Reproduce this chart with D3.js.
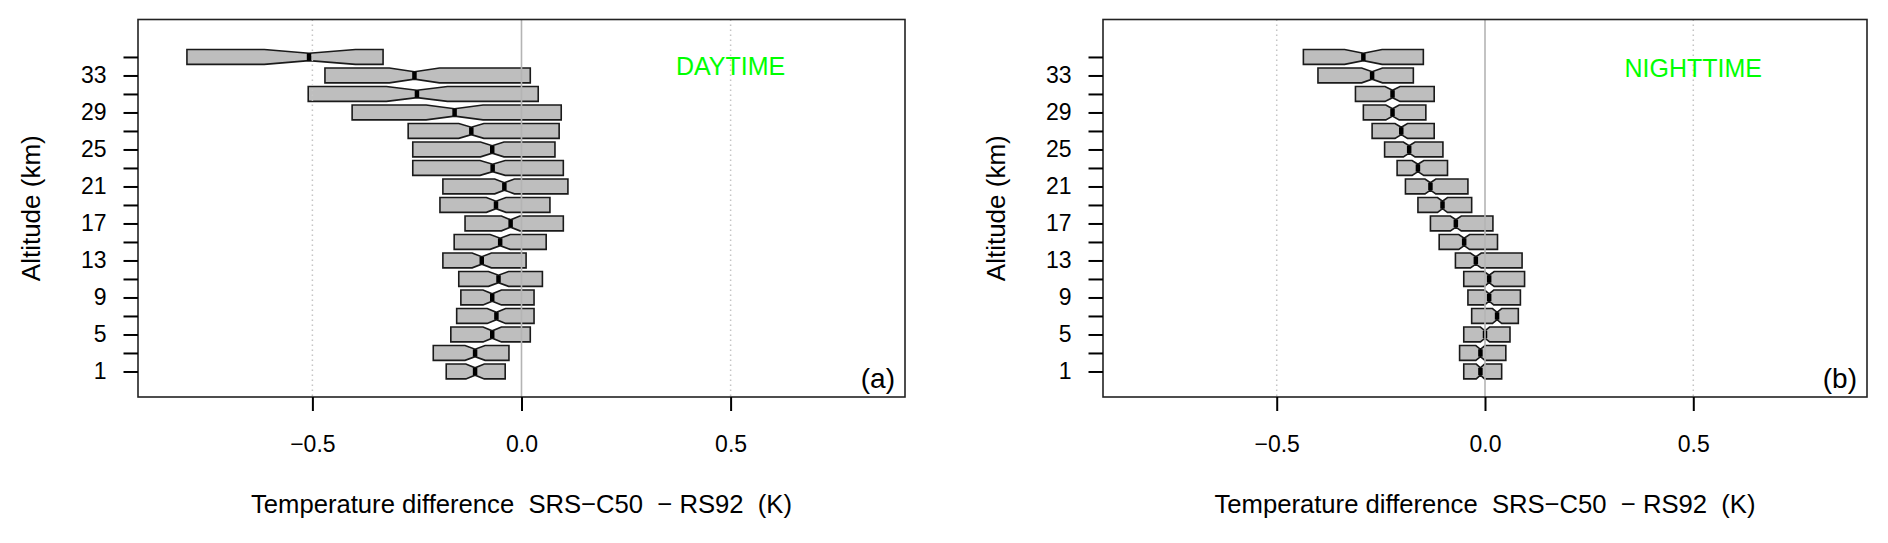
<!DOCTYPE html>
<html>
<head>
<meta charset="utf-8">
<script src="https://cdn.jsdelivr.net/npm/d3@7"></script>
<style>
  html, body { margin: 0; padding: 0; background: #fff; }
  svg { display: block; }
  text { font-family: "Liberation Sans", Arial, Helvetica, sans-serif; }
</style>
</head>
<body>
<svg id="chart" width="1888" height="543"></svg>
<script>
// ---------- data ----------
const altitudes = [1, 3, 5, 7, 9, 11, 13, 15, 17, 19, 21, 23, 25, 27, 29, 31, 33, 35];
const yTickLabels = [1, 5, 9, 13, 17, 21, 25, 29, 33];
const xTickValues = [-0.5, 0.0, 0.5];

// DAYTIME (panel a)
const dayQ1     = [-0.180, -0.211, -0.169, -0.155, -0.145, -0.150, -0.188, -0.161, -0.135, -0.195, -0.188, -0.260, -0.260, -0.271, -0.405, -0.510, -0.470, -0.800];
const dayMedian = [-0.111, -0.111, -0.070, -0.060, -0.070, -0.055, -0.095, -0.051, -0.026, -0.061, -0.041, -0.069, -0.070, -0.120, -0.160, -0.250, -0.256, -0.508];
const dayQ3     = [-0.039, -0.030,  0.021,  0.030,  0.030,  0.050,  0.011,  0.059,  0.100,  0.068,  0.111,  0.100,  0.080,  0.090,  0.095,  0.040,  0.021, -0.331];
const dayNotchLo= [-0.133, -0.135, -0.092, -0.082, -0.092, -0.079, -0.118, -0.075, -0.048, -0.084, -0.064, -0.099, -0.098, -0.150, -0.228, -0.323, -0.316, -0.615];
const dayNotchHi= [-0.089, -0.087, -0.048, -0.038, -0.048, -0.031, -0.072, -0.027, -0.004, -0.037, -0.017, -0.039, -0.042, -0.090, -0.092, -0.177, -0.196, -0.397];

// NIGHTTIME (panel b)
const nightQ1     = [-0.051, -0.061, -0.051, -0.032, -0.041, -0.051, -0.071, -0.110, -0.131, -0.161, -0.191, -0.211, -0.241, -0.271, -0.292, -0.311, -0.401, -0.436];
const nightMedian = [-0.011, -0.011,  0.000,  0.029,  0.010,  0.010, -0.022, -0.050, -0.070, -0.102, -0.131, -0.161, -0.182, -0.201, -0.222, -0.222, -0.271, -0.292];
const nightQ3     = [ 0.040,  0.050,  0.060,  0.080,  0.085,  0.095,  0.089,  0.030,  0.019, -0.032, -0.041, -0.090, -0.101, -0.122, -0.142, -0.122, -0.172, -0.148];
const nightNotchLo= [-0.021, -0.022, -0.011,  0.018, -0.001, -0.002, -0.035, -0.063, -0.083, -0.114, -0.144, -0.175, -0.196, -0.216, -0.238, -0.240, -0.296, -0.337];
const nightNotchHi= [-0.001,  0.000,  0.011,  0.040,  0.021,  0.022, -0.009, -0.037, -0.057, -0.090, -0.118, -0.147, -0.168, -0.186, -0.206, -0.204, -0.246, -0.247];

const panelLabels = ["(a)", "(b)"];
const panelTitles = ["DAYTIME", "NIGHTTIME"];
const xTitle = "Temperature difference  SRS\u2212C50  \u2212 RS92  (K)";
const yTitle = "Altitude (km)";

// ---------- layout ----------
const svg = d3.select("#chart");
const panels = [
  { x0: 138, x1: 905, q1: dayQ1, med: dayMedian, q3: dayQ3, lo: dayNotchLo, hi: dayNotchHi },
  { x0: 1103, x1: 1867, q1: nightQ1, med: nightMedian, q3: nightQ3, lo: nightNotchLo, hi: nightNotchHi }
];
const plotTop = 19.5, plotBottom = 397;
const xDomain = [-0.917, 0.917];
const yDomain = [-1.76, 39.05];
const boxHalf = 0.8; // km

panels.forEach((p, pi) => {
  const x = d3.scaleLinear().domain(xDomain).range([p.x0, p.x1]);
  const y = d3.scaleLinear().domain(yDomain).range([plotBottom, plotTop]);
  const g = svg.append("g");

  // boxes
  const hpx = Math.abs(y(boxHalf) - y(0));
  altitudes.forEach((a, i) => {
    const c = y(a);
    const pts = [
      [x(p.q1[i]), c - hpx], [x(p.lo[i]), c - hpx], [x(p.med[i]), c - hpx / 2],
      [x(p.hi[i]), c - hpx], [x(p.q3[i]), c - hpx], [x(p.q3[i]), c + hpx],
      [x(p.hi[i]), c + hpx], [x(p.med[i]), c + hpx / 2], [x(p.lo[i]), c + hpx],
      [x(p.q1[i]), c + hpx]
    ];
    g.append("path")
      .attr("d", "M" + pts.map(q => q.join(",")).join("L") + "Z")
      .attr("fill", "#bebebe")
      .attr("stroke", "#1a1a1a")
      .attr("stroke-width", 1.6)
      .attr("stroke-linejoin", "miter");
    g.append("line")
      .attr("x1", x(p.med[i])).attr("x2", x(p.med[i]))
      .attr("y1", c - hpx / 2).attr("y2", c + hpx / 2)
      .attr("stroke", "#000").attr("stroke-width", 4.5);
  });

  // reference lines
  [-0.5, 0.5].forEach(v => {
    g.append("line")
      .attr("x1", x(v)).attr("x2", x(v)).attr("y1", plotTop).attr("y2", plotBottom)
      .attr("stroke", "#c4c4c4").attr("stroke-width", 1.5)
      .attr("stroke-dasharray", "1.5,3.5");
  });
  g.append("line")
    .attr("x1", x(0)).attr("x2", x(0)).attr("y1", plotTop).attr("y2", plotBottom)
    .attr("stroke", "#b4b4b4").attr("stroke-width", 1.6);

  // frame
  g.append("rect")
    .attr("x", p.x0).attr("y", plotTop)
    .attr("width", p.x1 - p.x0).attr("height", plotBottom - plotTop)
    .attr("fill", "none").attr("stroke", "#222").attr("stroke-width", 1.6);

  // y axis
  const yAxis = d3.axisLeft(y).tickValues(altitudes)
    .tickFormat(d => yTickLabels.includes(d) ? String(d) : "")
    .tickSize(14.5).tickPadding(17);
  const ya = g.append("g").attr("transform", `translate(${p.x0},0)`).call(yAxis);
  ya.select(".domain").remove();
  ya.selectAll(".tick line").attr("stroke", "#000").attr("stroke-width", 2);
  ya.selectAll(".tick text").attr("font-size", 23).attr("fill", "#000")
    .attr("font-family", '"Liberation Sans", Arial, sans-serif');

  // x axis
  const xAxis = d3.axisBottom(x).tickValues(xTickValues)
    .tickFormat(d3.format(".1f")).tickSize(14).tickPadding(25);
  const xa = g.append("g").attr("transform", `translate(0,${plotBottom})`).call(xAxis);
  xa.select(".domain").remove();
  xa.selectAll(".tick line").attr("stroke", "#000").attr("stroke-width", 2);
  xa.selectAll(".tick text").attr("font-size", 23).attr("fill", "#000")
    .attr("font-family", '"Liberation Sans", Arial, sans-serif')
    .text(d => d3.format(".1f")(d).replace("-", "\u2212"));

  // axis titles
  g.append("text")
    .attr("x", (p.x0 + p.x1) / 2).attr("y", 513)
    .attr("text-anchor", "middle").attr("font-size", 26)
    .attr("textLength", 541).attr("lengthAdjust", "spacingAndGlyphs")
    .style("white-space", "pre")
    .text(xTitle);
  g.append("text")
    .attr("transform", `translate(${p.x0 - 98},${(plotTop + plotBottom) / 2}) rotate(-90)`)
    .attr("text-anchor", "middle").attr("font-size", 26)
    .text(yTitle);

  // panel annotations
  g.append("text")
    .attr("x", x(0.5)).attr("y", pi === 0 ? 75 : 77)
    .attr("text-anchor", "middle").attr("font-size", 25)
    .attr("fill", "#00ff00")
    .text(panelTitles[pi]);
  g.append("text")
    .attr("x", p.x1 - 10).attr("y", 388)
    .attr("text-anchor", "end").attr("font-size", 28)
    .text(panelLabels[pi]);
});
</script>
</body>
</html>
